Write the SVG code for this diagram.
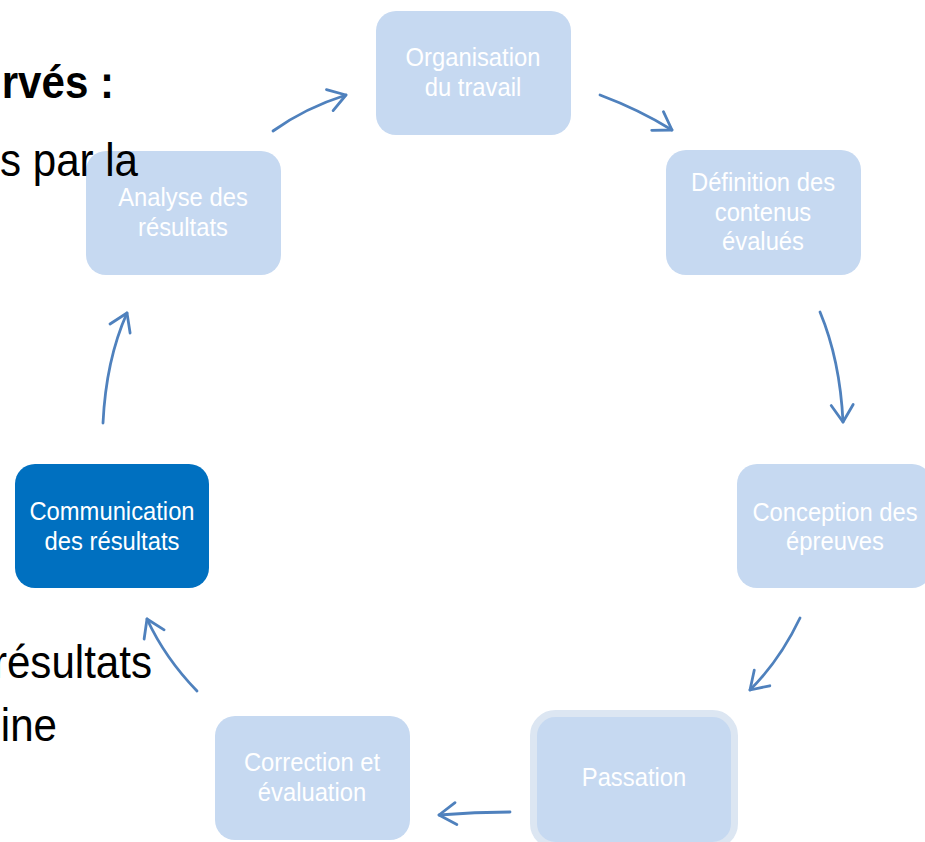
<svg xmlns="http://www.w3.org/2000/svg" width="925" height="842" viewBox="0 0 925 842">
<style>
.box{fill:#c6d9f1}
.lbl{font-family:"Liberation Sans",Arial,sans-serif;font-size:26px;fill:#ffffff;text-anchor:middle}
.bg{font-family:"Liberation Sans",Arial,sans-serif;font-size:46px;fill:#000000;text-anchor:end}
.conn path{fill:none;stroke:#4f81bd;stroke-width:2.8;stroke-linecap:round;marker-end:url(#ah)}
</style>
<defs>
<marker id="ah" markerUnits="userSpaceOnUse" markerWidth="30" markerHeight="30" refX="0" refY="0" viewBox="-20 -15 30 30" orient="auto" overflow="visible">
<path d="M-17,-11 L0,0 L-17,11" fill="none" stroke="#4f81bd" stroke-width="2.8" stroke-linecap="round" stroke-linejoin="round"/>
</marker>
</defs>
<rect width="925" height="842" fill="#ffffff"/>

<g id="n-organisation">
<rect class="box" x="376" y="11" width="195" height="124" rx="20"/>
<text class="lbl" transform="translate(473,66) scale(0.915,1)">Organisation</text>
<text class="lbl" transform="translate(473,96) scale(0.915,1)">du travail</text>
</g>
<g id="n-definition">
<rect class="box" x="666" y="150" width="195" height="125" rx="20"/>
<text class="lbl" transform="translate(763,191) scale(0.915,1)">Définition des</text>
<text class="lbl" transform="translate(763,221) scale(0.915,1)">contenus</text>
<text class="lbl" transform="translate(763,250) scale(0.915,1)">évalués</text>
</g>
<g id="n-conception">
<rect class="box" x="737" y="464" width="195" height="124" rx="20"/>
<text class="lbl" transform="translate(835,521) scale(0.915,1)">Conception des</text>
<text class="lbl" transform="translate(835,550) scale(0.915,1)">épreuves</text>
</g>
<g id="n-passation">
<rect class="box" x="533.5" y="713.5" width="201" height="132" rx="22" stroke="#dce6f2" stroke-width="7"/>
<text class="lbl" transform="translate(634,786) scale(0.915,1)">Passation</text>
</g>
<g id="n-correction">
<rect class="box" x="215" y="716" width="195" height="124" rx="20"/>
<text class="lbl" transform="translate(312,771) scale(0.915,1)">Correction et</text>
<text class="lbl" transform="translate(312,801) scale(0.915,1)">évaluation</text>
</g>
<g id="n-communication">
<rect x="15" y="464" width="194" height="124" rx="20" fill="#0070c0"/>
<text class="lbl" transform="translate(112,520) scale(0.915,1)">Communication</text>
<text class="lbl" transform="translate(112,550) scale(0.915,1)">des résultats</text>
</g>
<g id="n-analyse">
<rect class="box" x="86" y="151" width="195" height="124" rx="20"/>
<text class="lbl" transform="translate(183,206) scale(0.915,1)">Analyse des</text>
<text class="lbl" transform="translate(183,236) scale(0.915,1)">résultats</text>
</g>

<g id="connectors" class="conn">
<path d="M273,131 Q305,108 346,95"/>
<path d="M600,95 Q640,110 672,130"/>
<path d="M820,312 Q840,360 843,422"/>
<path d="M800,618 Q780,660 750,690"/>
<path d="M510,812 Q475,812 439,815"/>
<path d="M197,691 Q165,658 147,619"/>
<path d="M103,423 Q106,360 127,313"/>
</g>

<g id="background-text">
<text class="bg" font-weight="bold" transform="translate(114,98) scale(0.915,1)">rvés :</text>
<text class="bg" transform="translate(138,176) scale(0.915,1)">s par la</text>
<text class="bg" transform="translate(152,678) scale(0.915,1)">résultats</text>
<text class="bg" transform="translate(57,741) scale(0.915,1)">ine</text>
</g>
</svg>
